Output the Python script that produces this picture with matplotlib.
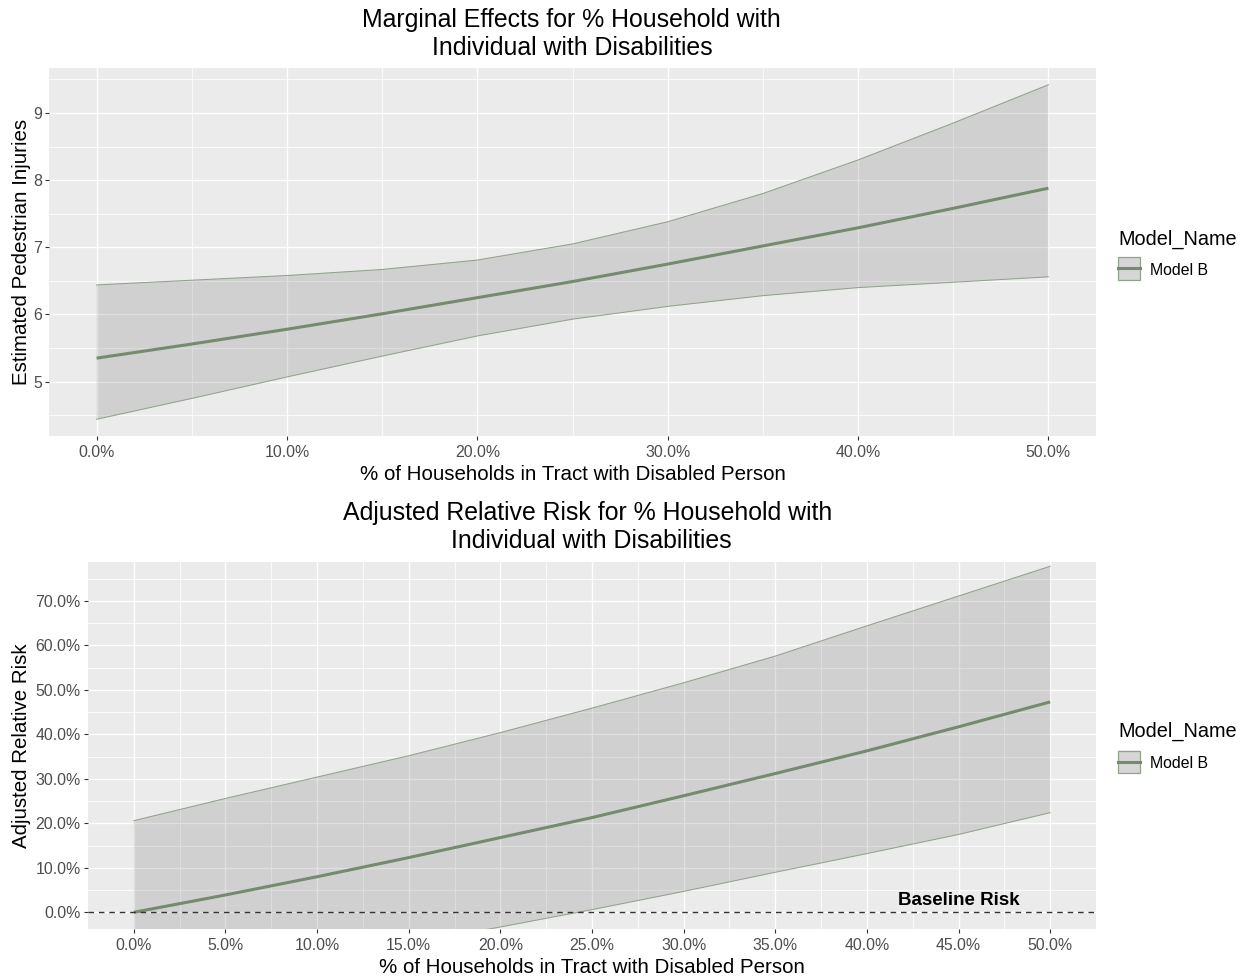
import matplotlib
matplotlib.use("Agg")
import matplotlib.pyplot as plt
from matplotlib.patches import Rectangle
from matplotlib.lines import Line2D

plt.rcParams['font.family'] = ['Liberation Sans', 'DejaVu Sans']

# ---------------- data ----------------
pct_disabled = [0, 5, 10, 15, 20, 25, 30, 35, 40, 45, 50]

# Marginal effects (estimated pedestrian injuries)
me_fit = [5.35, 5.56, 5.78, 6.01, 6.25, 6.49, 6.75, 7.02, 7.29, 7.58, 7.88]
me_upper = [6.44, 6.51, 6.58, 6.67, 6.81, 7.05, 7.38, 7.80, 8.30, 8.85, 9.42]
me_lower = [4.44, 4.75, 5.07, 5.38, 5.68, 5.93, 6.12, 6.28, 6.40, 6.48, 6.56]

# Adjusted relative risk (percent)
rr_fit = [0.0, 3.9, 8.0, 12.3, 16.8, 21.3, 26.2, 31.2, 36.3, 41.7, 47.3]
rr_upper = [20.6, 25.6, 30.4, 35.2, 40.4, 45.9, 51.6, 57.6, 64.4, 71.1, 77.8]
rr_lower = [-17.3, -14.0, -10.5, -7.0, -3.3, 0.6, 4.7, 9.0, 13.2, 17.5, 22.4]

model_name = "Model B"

top_xticks = [0, 10, 20, 30, 40, 50]
top_xticklabels = ["0.0%", "10.0%", "20.0%", "30.0%", "40.0%", "50.0%"]
top_yticks = [5, 6, 7, 8, 9]
bot_xticks = [0, 5, 10, 15, 20, 25, 30, 35, 40, 45, 50]
bot_xticklabels = ["0.0%", "5.0%", "10.0%", "15.0%", "20.0%", "25.0%",
                   "30.0%", "35.0%", "40.0%", "45.0%", "50.0%"]
bot_yticks = [0, 10, 20, 30, 40, 50, 60, 70]
bot_yticklabels = ["0.0%", "10.0%", "20.0%", "30.0%", "40.0%", "50.0%",
                   "60.0%", "70.0%"]
rr_view = (0, 75)

# ---------------- style ----------------
W, H = 1247, 980
PANEL = "#EBEBEB"
LINE = "#758A6E"
EDGE = "#90A38B"
RIBBON = "#666666"
TICKLAB = "#4D4D4D"
TICK = "#333333"

fig = plt.figure(figsize=(W / 100, H / 100), dpi=100)


def fx(px):
    return px / W


def fy(py):
    return 1 - py / H


def make_axes(left, top, right, bottom):
    ax = fig.add_axes([fx(left), fy(bottom), (right - left) / W, (bottom - top) / H])
    ax.set_facecolor(PANEL)
    for s in ax.spines.values():
        s.set_visible(False)
    ax.set_axisbelow(True)
    ax.grid(which="major", color="white", linewidth=1.0)
    ax.grid(which="minor", color="white", linewidth=0.55)
    ax.tick_params(which="major", length=2.9, width=0.8, color=TICK,
                   labelcolor=TICKLAB, labelsize=11.4)
    ax.tick_params(axis="x", which="major", pad=3.6)
    ax.tick_params(axis="y", which="major", pad=2.4)
    ax.tick_params(which="minor", length=0)
    return ax


def expand(lo, hi, f=0.05):
    r = hi - lo
    return lo - f * r, hi + f * r


def place_labels(ax, left, top, right, bottom, xlab_base, ylab_base):
    ax.xaxis.label.set_verticalalignment("baseline")
    ax.xaxis.set_label_coords(0.5, (bottom - xlab_base) / (bottom - top))
    ax.yaxis.label.set_verticalalignment("baseline")
    ax.yaxis.set_label_coords((ylab_base - left) / (right - left), 0.5)


def draw_legend(title_base, key_top):
    fig.text(fx(1118), fy(title_base), "Model_Name", fontsize=14.3,
             ha="left", va="baseline", color="black")
    kx, kw, kh = 1117.5, 22.5, 23
    fig.add_artist(Rectangle((fx(kx), fy(key_top + kh)), kw / W, kh / H,
                             transform=fig.transFigure, facecolor="#F2F2F2",
                             edgecolor="none"))
    fig.add_artist(Rectangle((fx(kx + 0.5), fy(key_top + kh - 0.5)), (kw - 1) / W,
                             (kh - 1) / H, transform=fig.transFigure,
                             facecolor=RIBBON, alpha=0.2, edgecolor="none"))
    fig.add_artist(Rectangle((fx(kx + 0.5), fy(key_top + kh - 0.5)), (kw - 1) / W,
                             (kh - 1) / H, transform=fig.transFigure,
                             facecolor="none", edgecolor=EDGE, linewidth=0.9))
    fig.add_artist(Line2D([fx(kx + 0.5), fx(kx + kw - 0.5)],
                          [fy(key_top + kh / 2)] * 2, transform=fig.transFigure,
                          color=LINE, linewidth=2.2))
    fig.text(fx(1150), fy(key_top + 18.3), model_name, fontsize=11.4,
             ha="left", va="baseline", color="black")


# ---------------- top panel: marginal effects ----------------
t_l, t_t, t_r, t_b = 49, 68, 1096, 436
ax1 = make_axes(t_l, t_t, t_r, t_b)
ax1.fill_between(pct_disabled, me_lower, me_upper, facecolor=RIBBON,
                 alpha=0.2, linewidth=0)
ax1.plot(pct_disabled, me_upper, color=EDGE, linewidth=0.75)
ax1.plot(pct_disabled, me_lower, color=EDGE, linewidth=0.75)
ax1.plot(pct_disabled, me_fit, color=LINE, linewidth=2.2,
         solid_capstyle="butt")
ax1.set_xlim(*expand(min(pct_disabled), max(pct_disabled)))
ax1.set_ylim(*expand(min(me_lower), max(me_upper)))
ax1.set_xticks(top_xticks)
ax1.set_xticklabels(top_xticklabels)
ax1.set_xticks([5, 15, 25, 35, 45], minor=True)
ax1.set_yticks(top_yticks)
ax1.set_yticks([4.5, 5.5, 6.5, 7.5, 8.5, 9.5], minor=True)
ax1.set_xlabel("% of Households in Tract with Disabled Person", fontsize=14.8)
ax1.set_ylabel("Estimated Pedestrian Injuries", fontsize=14.8)
place_labels(ax1, t_l, t_t, t_r, t_b, 480, 27.5)

fig.text(fx(571), fy(26.7), "Marginal Effects for % Household with",
         fontsize=17.9, ha="center", va="baseline")
fig.text(fx(572), fy(55), "Individual with Disabilities",
         fontsize=17.9, ha="center", va="baseline")
draw_legend(245, 257)

# ---------------- bottom panel: adjusted relative risk ----------------
b_l, b_t, b_r, b_b = 88, 562, 1096, 929
ax2 = make_axes(b_l, b_t, b_r, b_b)
ax2.fill_between(pct_disabled, rr_lower, rr_upper, facecolor=RIBBON,
                 alpha=0.2, linewidth=0)
ax2.plot(pct_disabled, rr_upper, color=EDGE, linewidth=0.75)
ax2.plot(pct_disabled, rr_lower, color=EDGE, linewidth=0.75)
ax2.plot(pct_disabled, rr_fit, color=LINE, linewidth=2.2,
         solid_capstyle="butt")
ax2.axhline(0, color=TICK, linewidth=1.0, linestyle=(0, (4, 3.5)))
ax2.text(45, 1.75, "Baseline Risk", fontsize=13.5, fontweight="bold",
         ha="center", va="baseline", color="black")
ax2.set_xlim(*expand(min(pct_disabled), max(pct_disabled)))
ax2.set_ylim(*expand(*rr_view))
ax2.set_xticks(bot_xticks)
ax2.set_xticklabels(bot_xticklabels)
ax2.set_xticks([2.5 + 5 * i for i in range(10)], minor=True)
ax2.set_yticks(bot_yticks)
ax2.set_yticklabels(bot_yticklabels)
ax2.set_yticks([5 + 10 * i for i in range(8)], minor=True)
ax2.set_xlabel("% of Households in Tract with Disabled Person", fontsize=14.8)
ax2.set_ylabel("Adjusted Relative Risk", fontsize=14.8)
place_labels(ax2, b_l, b_t, b_r, b_b, 973.3, 27.5)

fig.text(fx(588), fy(520), "Adjusted Relative Risk for % Household with",
         fontsize=17.9, ha="center", va="baseline")
fig.text(fx(591), fy(548.3), "Individual with Disabilities",
         fontsize=17.9, ha="center", va="baseline")
draw_legend(737, 750)

fig.savefig("out.png", dpi=100, facecolor="white")
